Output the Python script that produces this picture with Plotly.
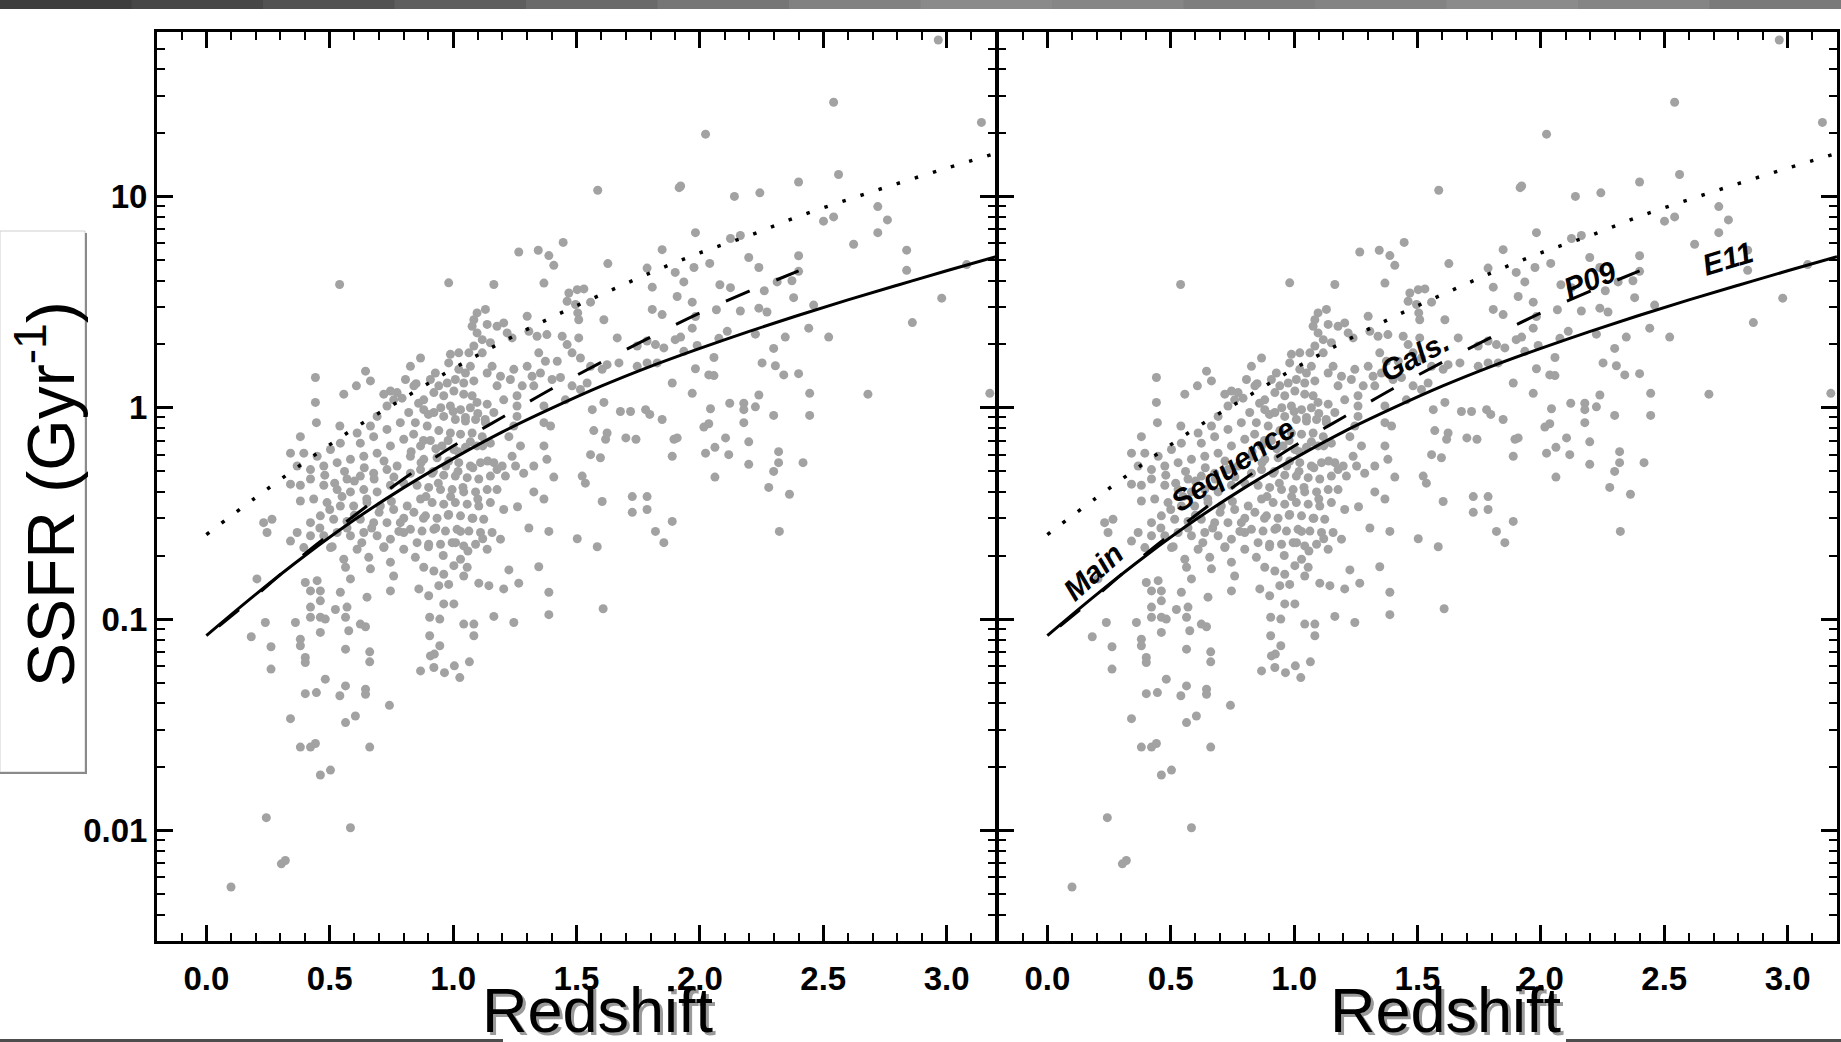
import plotly.graph_objects as go

W, H = 1841, 1042

# ---------------- data ----------------
x_tick_vals = [0.0, 0.5, 1.0, 1.5, 2.0, 2.5, 3.0]
x_tick_text = ["0.0", "0.5", "1.0", "1.5", "2.0", "2.5", "3.0"]
y_tick_vals = [0.01, 0.1, 1, 10]
y_tick_text = ["0.01", "0.1", "1", "10"]

# E11 (solid)
e11_z = [0.0, 0.2, 0.4, 0.6, 0.8, 1.0, 1.2, 1.4, 1.6, 1.8, 2.0, 2.2, 2.4, 2.6, 2.8, 3.0, 3.2]
e11_ssfr = [0.0836, 0.131, 0.200, 0.295, 0.419, 0.575, 0.769, 0.995, 1.265, 1.57, 1.91, 2.30,
            2.74, 3.24, 3.80, 4.45, 5.18]

# P09 (dashed)
p09_z = [0.05, 0.2, 0.4, 0.6, 0.8, 1.0, 1.2, 1.4, 1.6, 1.8, 2.0, 2.2, 2.4]
p09_ssfr = [0.0925, 0.129, 0.204, 0.309, 0.462, 0.659, 0.902, 1.23, 1.64, 2.16, 2.81, 3.56, 4.44]

# upper envelope (dotted)
dot_z = [0.0, 0.2, 0.4, 0.6, 0.8, 1.0, 1.2, 1.4, 1.6, 1.8, 2.0, 2.2, 2.4, 2.6, 2.8, 3.0, 3.2]
dot_ssfr = [0.251, 0.376, 0.555, 0.80, 1.11, 1.53, 2.05, 2.68, 3.43, 4.35, 5.41, 6.53, 8.04, 9.66, 11.5, 13.6, 16.0]

# galaxies (redshift, SSFR) grouped by region of the plot
gal_upper = [
    (1.586, 10.7), (1.916, 11.0), (0.54, 3.83), (0.982, 3.9), (1.165, 3.83), (1.446, 6.06),
    (1.266, 5.46), (1.345, 5.56), (1.388, 5.25), (1.408, 4.72), (1.847, 5.6), (1.627, 4.81),
    (1.368, 3.89), (1.807, 3.72), (1.786, 4.58), (1.9, 4.37), (1.469, 3.49), (1.503, 3.62),
    (1.53, 3.65), (1.496, 3.08), (1.557, 3.16), (1.611, 2.61), (1.807, 2.92), (1.847, 2.76),
    (1.462, 3.19), (1.505, 2.81), (1.509, 2.61), (1.3, 2.71), (1.307, 2.3), (1.34, 2.18),
    (1.38, 2.22), (1.347, 1.82), (1.442, 2.18), (1.462, 1.99), (1.509, 2.14), (1.665, 2.14),
    (1.746, 1.96), (1.786, 2.07), (1.82, 1.99), (1.854, 1.92), (1.9, 2.1), (1.672, 1.63),
    (1.746, 1.57), (1.786, 1.63), (1.827, 1.63), (1.888, 1.31), (1.557, 1.57), (1.604, 1.52),
    (1.624, 1.6), (1.678, 0.96), (1.719, 0.96), (1.78, 0.98), (1.797, 0.93), (1.847, 0.88),
    (1.895, 0.71), (1.7, 0.72), (1.741, 0.71), (1.611, 1.06), (1.564, 0.98), (1.57, 0.78),
    (1.624, 0.76), (1.618, 0.71), (1.557, 0.6), (1.597, 0.58), (1.888, 0.59), (1.408, 0.47),
    (1.523, 0.475), (1.536, 0.44), (1.726, 0.38), (1.786, 0.38), (1.786, 0.33), (1.726, 0.32),
    (1.604, 0.36), (1.503, 0.24), (1.584, 0.22), (1.82, 0.26), (1.854, 0.23), (1.888, 0.29),
    (1.388, 0.26), (1.307, 0.27),
]

gal_mid = [
    (1.368, 0.85), (1.368, 0.66), (1.38, 0.57), (1.327, 0.53), (1.327, 0.4), (1.368, 0.37),
    (1.261, 0.34), (1.205, 0.33), (1.253, 0.53), (1.286, 0.49), (1.273, 0.66), (1.226, 0.73),
    (1.246, 0.82), (1.199, 0.53), (1.239, 0.59), (1.165, 0.55), (1.178, 0.51), (1.212, 0.475),
    (1.259, 1.02), (1.259, 0.91), (1.259, 1.14), (1.28, 1.27), (1.232, 1.36), (1.246, 1.52),
    (1.3, 1.57), (1.32, 1.41), (1.327, 1.27), (1.205, 1.09), (1.178, 1.27), (1.192, 1.41),
    (1.354, 1.46), (1.374, 1.66), (1.422, 1.66), (1.401, 1.36), (1.435, 1.39), (1.482, 1.27),
    (1.455, 1.09), (1.516, 1.72), (1.482, 1.82), (1.543, 1.31), (1.516, 1.22), (1.395, 0.82),
    (1.368, 1.02), (1.151, 2.03), (1.131, 2.92), (1.097, 2.81), (1.138, 2.48), (1.178, 2.43),
    (1.219, 2.26), (1.205, 2.52), (1.239, 2.14), (1.084, 2.61), (1.077, 2.43), (1.097, 2.26),
    (1.118, 2.1), (1.084, 1.96), (1.118, 1.82), (1.064, 1.82), (1.158, 1.57), (1.138, 1.46),
    (0.989, 1.79), (1.023, 1.82), (0.982, 1.63), (1.07, 1.57), (1.05, 1.46), (1.023, 1.52),
    (1.043, 1.31), (1.084, 1.34), (1.009, 1.36), (0.976, 1.31), (0.928, 1.46), (0.908, 1.36),
    (0.942, 1.27), (0.868, 1.72), (0.827, 1.57),
]

gal_core = [
    (0.881, 1.09), (0.922, 1.18), (0.962, 1.14), (1.003, 1.2), (1.043, 1.16), (1.077, 1.14),
    (0.989, 1.02), (1.03, 0.98), (1.07, 1.0), (1.097, 1.06), (1.138, 1.04), (1.165, 0.95),
    (1.131, 0.85), (1.091, 0.88), (1.05, 0.865), (1.009, 0.88), (0.962, 0.91), (0.922, 0.95),
    (0.881, 0.98), (0.847, 0.85), (0.895, 0.82), (0.942, 0.78), (0.989, 0.76), (1.03, 0.75),
    (1.077, 0.76), (1.118, 0.73), (1.151, 0.68), (1.097, 0.66), (1.05, 0.65), (1.003, 0.635),
    (0.955, 0.66), (0.908, 0.70), (0.868, 0.66), (0.827, 0.59), (0.881, 0.57), (0.935, 0.58),
    (0.982, 0.56), (1.023, 0.55), (1.07, 0.53), (1.111, 0.55), (1.151, 0.475), (1.104, 0.46),
    (1.057, 0.467), (1.009, 0.475), (0.962, 0.48), (0.915, 0.49), (0.868, 0.51), (0.827, 0.49),
    (0.854, 0.43), (0.901, 0.42), (0.949, 0.41), (0.996, 0.41), (1.043, 0.40), (1.091, 0.40),
    (1.138, 0.41), (1.178, 0.41), (1.151, 0.356), (1.104, 0.343), (1.057, 0.35), (1.009, 0.356),
    (0.962, 0.35), (0.915, 0.356), (0.868, 0.37), (0.841, 0.32), (0.888, 0.308), (0.935, 0.30),
    (0.982, 0.313), (1.03, 0.308), (1.077, 0.30), (1.124, 0.297), (1.158, 0.257), (1.111, 0.257),
    (1.064, 0.261), (1.016, 0.266), (0.969, 0.261), (0.922, 0.266), (0.874, 0.261), (0.827, 0.266),
    (0.854, 0.23), (0.901, 0.226), (0.949, 0.226), (0.996, 0.23), (1.043, 0.222), (1.091, 0.226),
    (1.138, 0.214), (1.192, 0.239),
    (0.86, 1.05), (0.9, 0.93), (0.95, 1.0), (1.0, 0.96), (1.05, 0.9), (1.1, 0.94), (1.13, 0.88),
    (0.88, 0.7), (0.93, 0.64), (0.98, 0.7), (1.02, 0.62), (1.07, 0.69), (1.12, 0.66), (0.87, 0.55),
    (0.92, 0.5), (0.97, 0.53), (1.02, 0.5), (1.08, 0.52), (1.14, 0.56), (0.89, 0.38), (0.94, 0.44),
    (0.99, 0.38), (1.04, 0.42), (1.1, 0.37), (0.88, 0.3), (0.93, 0.27), (0.98, 0.31), (1.03, 0.26),
    (1.08, 0.3), (0.9, 0.22), (0.96, 0.2), (1.01, 0.23), (1.06, 0.21), (1.12, 0.24),
    (0.83, 0.62), (0.84, 0.75), (0.82, 0.95), (0.85, 1.3),
]

gal_left = [
    (0.442, 1.39), (0.442, 1.06), (0.446, 0.85), (0.381, 0.73), (0.541, 0.82), (0.557, 1.16),
    (0.608, 1.27), (0.645, 1.49), (0.665, 1.34), (0.746, 1.2), (0.773, 1.18), (0.793, 1.11),
    (0.732, 1.02), (0.692, 0.91), (0.665, 0.82), (0.611, 0.76), (0.543, 0.68), (0.503, 0.635),
    (0.449, 0.59), (0.395, 0.61), (0.341, 0.61), (0.368, 0.53), (0.422, 0.51), (0.476, 0.53),
    (0.53, 0.55), (0.584, 0.57), (0.638, 0.59), (0.692, 0.61), (0.746, 0.66), (0.8, 0.71),
    (0.786, 0.85), (0.732, 0.79), (0.678, 0.73), (0.624, 0.68), (0.57, 0.46), (0.624, 0.475),
    (0.678, 0.49), (0.732, 0.51), (0.773, 0.53), (0.8, 0.44), (0.746, 0.43), (0.692, 0.40),
    (0.638, 0.41), (0.584, 0.40), (0.53, 0.41), (0.476, 0.43), (0.422, 0.46), (0.381, 0.43),
    (0.341, 0.435), (0.381, 0.362), (0.435, 0.37), (0.489, 0.356), (0.543, 0.343), (0.597, 0.343),
    (0.651, 0.356), (0.705, 0.343), (0.759, 0.33), (0.814, 0.343), (0.786, 0.286), (0.732, 0.286),
    (0.678, 0.286), (0.624, 0.297), (0.57, 0.29), (0.516, 0.297), (0.462, 0.308), (0.422, 0.286),
    (0.368, 0.257), (0.422, 0.248), (0.476, 0.248), (0.53, 0.257), (0.584, 0.248), (0.638, 0.257),
    (0.692, 0.248), (0.746, 0.239), (0.8, 0.257), (0.232, 0.286), (0.266, 0.297), (0.246, 0.257),
    (0.341, 0.234), (0.395, 0.218), (0.503, 0.218), (0.611, 0.214), (0.719, 0.218), (0.8, 0.214),
    (0.719, 1.16), (0.759, 1.09), (0.841, 1.27), (0.807, 1.36),
    (0.48, 0.48), (0.52, 0.44), (0.56, 0.5), (0.6, 0.45), (0.64, 0.52), (0.68, 0.46), (0.72, 0.56),
    (0.76, 0.47), (0.5, 0.33), (0.55, 0.38), (0.6, 0.31), (0.65, 0.37), (0.7, 0.32), (0.75, 0.36),
    (0.8, 0.3), (0.46, 0.27), (0.51, 0.22), (0.57, 0.27), (0.63, 0.23), (0.67, 0.27), (0.72, 0.22),
    (0.78, 0.26),
]

gal_low = [
    (0.205, 0.155), (0.239, 0.0964), (0.182, 0.0825), (0.262, 0.074), (0.262, 0.058),
    (0.361, 0.0964), (0.422, 0.102), (0.462, 0.102), (0.482, 0.1), (0.462, 0.0865), (0.381, 0.0804),
    (0.381, 0.0748), (0.401, 0.0658), (0.401, 0.0623), (0.422, 0.114), (0.401, 0.149), (0.422, 0.136),
    (0.462, 0.136), (0.462, 0.122), (0.449, 0.152), (0.523, 0.111), (0.543, 0.134), (0.564, 0.176),
    (0.557, 0.192), (0.584, 0.155), (0.57, 0.114), (0.564, 0.102), (0.577, 0.0881), (0.564, 0.0721),
    (0.624, 0.0947), (0.645, 0.092), (0.651, 0.127), (0.665, 0.173), (0.658, 0.196), (0.746, 0.186),
    (0.759, 0.16), (0.746, 0.136), (0.662, 0.07), (0.662, 0.0628), (0.482, 0.052), (0.401, 0.0444),
    (0.446, 0.0449), (0.541, 0.0434), (0.564, 0.0483), (0.645, 0.0466), (0.645, 0.0441),
    (0.742, 0.0391), (0.341, 0.0338), (0.564, 0.0324), (0.604, 0.0348), (0.381, 0.0248),
    (0.422, 0.0248), (0.442, 0.0258), (0.662, 0.0248), (0.462, 0.0183), (0.503, 0.0193),
    (0.243, 0.0115), (0.584, 0.0103), (0.304, 0.00695), (0.32, 0.00721), (0.1, 0.0054),
    (0.847, 0.196), (0.881, 0.176), (0.922, 0.169), (0.962, 0.163), (1.003, 0.179), (1.03, 0.192),
    (1.057, 0.176), (1.043, 0.16), (0.861, 0.139), (0.901, 0.129), (0.942, 0.144), (0.982, 0.146),
    (0.962, 0.118), (1.003, 0.118), (1.104, 0.148), (1.145, 0.144), (1.205, 0.139), (1.226, 0.171),
    (1.266, 0.148), (1.347, 0.177), (1.388, 0.134), (1.388, 0.105), (1.165, 0.103), (1.246, 0.0964),
    (0.905, 0.102), (0.946, 0.1), (1.043, 0.0947), (1.084, 0.0947), (1.084, 0.0834), (0.905, 0.0834),
    (0.946, 0.0748), (0.908, 0.067), (0.924, 0.0683), (0.868, 0.0569), (0.922, 0.059), (0.965, 0.0558),
    (1.005, 0.0601), (1.027, 0.0529), (1.066, 0.0628), (1.608, 0.112),
]

gal_highz = [
    (2.542, 27.9), (2.023, 19.7), (3.141, 22.4), (2.966, 55.0), (1.922, 11.2), (2.14, 10.0),
    (2.243, 10.4), (2.4, 11.7), (2.562, 12.7), (2.501, 7.64), (2.542, 8.0), (2.721, 8.95),
    (2.76, 7.74), (2.721, 6.74), (2.623, 5.94), (2.838, 5.57), (2.838, 4.47), (3.081, 4.76),
    (2.98, 3.3), (2.861, 2.53), (2.681, 1.16), (3.175, 1.17), (2.522, 2.16), (1.982, 6.74),
    (1.976, 4.61), (2.04, 4.82), (2.124, 6.32), (2.164, 6.53), (2.239, 4.61), (2.198, 5.14),
    (2.081, 3.82), (2.124, 3.7), (1.935, 3.94), (1.908, 3.36), (1.969, 3.16), (1.982, 2.7),
    (2.067, 2.91), (2.164, 2.87), (2.239, 2.96), (2.272, 2.84), (2.261, 3.58), (2.313, 3.94),
    (2.373, 3.99), (2.4, 5.24), (2.4, 4.42), (2.38, 3.32), (2.461, 3.06), (2.441, 2.38),
    (2.346, 2.16), (2.111, 2.3), (2.077, 2.13), (1.922, 2.16), (1.969, 2.38), (1.989, 1.97),
    (1.935, 1.85), (2.057, 1.73), (2.225, 2.23), (2.299, 1.91), (2.252, 1.63), (2.306, 1.58),
    (2.34, 1.43), (2.4, 1.45), (1.982, 1.53), (2.036, 1.43), (2.057, 1.42), (1.969, 1.17),
    (2.445, 1.17), (2.121, 1.05), (2.178, 1.05), (2.225, 1.01), (2.178, 0.98), (2.239, 1.15),
    (2.043, 0.99), (2.016, 0.81), (2.036, 0.84), (2.299, 0.92), (2.445, 0.92), (1.908, 0.72),
    (2.023, 0.61), (2.104, 0.72), (2.061, 0.65), (2.178, 0.85), (2.198, 0.69), (2.117, 0.60),
    (2.198, 0.54), (2.319, 0.62), (2.319, 0.55), (2.299, 0.50), (2.418, 0.55), (2.061, 0.47),
    (2.279, 0.42), (2.363, 0.39), (2.322, 0.26),
]

# ---------------- helpers for placement ----------------
def px(x):
    return x / W


def py(y):
    return 1 - y / H


galaxies = gal_upper + gal_mid + gal_core + gal_left + gal_low + gal_highz
gal_z = [p[0] for p in galaxies]
gal_ssfr = [p[1] for p in galaxies]

FONT = "Liberation Sans, Arial, Helvetica, sans-serif"
GRAY = "#a2a2a2"

fig = go.Figure()

for xa, ya in (("x", "y"), ("x2", "y2")):
    fig.add_trace(go.Scatter(x=gal_z, y=gal_ssfr, mode="markers", xaxis=xa, yaxis=ya,
                             marker=dict(size=9, color=GRAY, line=dict(width=0)),
                             showlegend=False, hoverinfo="skip"))
    fig.add_trace(go.Scatter(x=dot_z, y=dot_ssfr, mode="lines", xaxis=xa, yaxis=ya,
                             line=dict(color="black", width=3.5, dash="3.5px,15.5px", shape="spline"),
                             showlegend=False, hoverinfo="skip"))
    fig.add_trace(go.Scatter(x=p09_z, y=p09_ssfr, mode="lines", xaxis=xa, yaxis=ya,
                             line=dict(color="black", width=3, dash="26px,29px", shape="spline"),
                             showlegend=False, hoverinfo="skip"))
    fig.add_trace(go.Scatter(x=e11_z, y=e11_ssfr, mode="lines", xaxis=xa, yaxis=ya,
                             line=dict(color="black", width=3, shape="spline"),
                             showlegend=False, hoverinfo="skip"))

y_minor = [m * 10 ** e for e in range(-3, 2) for m in range(2, 10)]
y_minor = [v for v in y_minor if 0.003 <= v <= 60]

ydom = [py(941), py(32)]
TICKFONT = dict(family=FONT, size=33, color="black", weight="bold")


def xaxis_cfg(dom, anchor):
    return dict(domain=[px(dom[0]), px(dom[1])], anchor=anchor, range=[-0.2, 3.2],
                tickmode="array", tickvals=x_tick_vals, ticktext=x_tick_text,
                ticks="inside", ticklen=16, tickwidth=2.5, tickcolor="black",
                minor=dict(tickmode="linear", tick0=0, dtick=0.1, ticks="inside", ticklen=8,
                           tickwidth=2, tickcolor="black", showgrid=False),
                showline=True, linewidth=3, linecolor="black", mirror="ticks",
                showgrid=False, zeroline=False, ticklabelstandoff=6,
                tickfont=TICKFONT)


def yaxis_cfg(anchor, labels):
    return dict(domain=ydom, anchor=anchor, type="log", range=[-2.523, 1.778],
                tickmode="array", tickvals=y_tick_vals, ticktext=y_tick_text,
                showticklabels=labels,
                ticks="inside", ticklen=16, tickwidth=2.5, tickcolor="black",
                minor=dict(tickmode="array", tickvals=y_minor, ticks="inside", ticklen=8,
                           tickwidth=2, tickcolor="black", showgrid=False),
                showline=True, linewidth=3, linecolor="black", mirror="ticks",
                showgrid=False, zeroline=False, ticklabelstandoff=0,
                tickfont=TICKFONT)


shapes = []
# slide band at the top
band_grays = ["#3e3e3e", "#474747", "#525252", "#5e5e5e", "#6a6a6a", "#767676", "#818181",
              "#8a8a8a", "#868686", "#7e7e7e", "#838383", "#8b8b8b", "#858585", "#7a7a7a"]
nb = len(band_grays)
for i, c in enumerate(band_grays):
    shapes.append(dict(type="rect", xref="paper", yref="paper", x0=i / nb, x1=(i + 1) / nb + 0.002,
                       y0=py(9), y1=1, fillcolor=c, line=dict(width=0), layer="above"))
# slide bars at the bottom
for x0, x1 in ((0, 503), (1566, 1841)):
    shapes.append(dict(type="rect", xref="paper", yref="paper", x0=px(x0), x1=px(x1),
                       y0=0, y1=py(1039), fillcolor="#4d4d4d", line=dict(width=0), layer="above"))
# y-title box
shapes.append(dict(type="rect", xref="paper", yref="paper", x0=0, x1=px(85), y0=py(772), y1=py(231),
                   fillcolor="white", line=dict(color="#cfcfcf", width=1), layer="below"))
shapes.append(dict(type="line", xref="paper", yref="paper", x0=px(86), x1=px(86), y0=py(774), y1=py(233),
                   line=dict(color="#8a8a8a", width=2)))
shapes.append(dict(type="line", xref="paper", yref="paper", x0=0, x1=px(86), y0=py(773), y1=py(773),
                   line=dict(color="#8a8a8a", width=2)))

annotations = []
# y title
annotations.append(dict(text="SSFR (Gyr<sup>-1</sup>)", xref="paper", yref="paper",
                        x=px(46), y=py(494), xanchor="center", yanchor="middle", showarrow=False,
                        textangle=-90, font=dict(family=FONT, size=66, color="black")))
# x titles with soft shadow
for cx in (598, 1446):
    annotations.append(dict(text="Redshift", xref="paper", yref="paper", x=px(cx + 3), y=py(1013),
                            xanchor="center", yanchor="middle", showarrow=False,
                            font=dict(family=FONT, size=63, color="#9a9a9a")))
    annotations.append(dict(text="Redshift", xref="paper", yref="paper", x=px(cx), y=py(1010),
                            xanchor="center", yanchor="middle", showarrow=False,
                            font=dict(family=FONT, size=63, color="black")))

# line labels in right panel (x in redshift, y in log10 SSFR)
label_text = ["Main", "Sequence", "Gals.", "P09", "E11"]
label_z = [0.186, 0.753, 1.486, 2.2, 2.756]
label_logssfr = [-0.774, -0.269, 0.241, 0.608, 0.708]
label_angle = [-42, -34, -28, -22, -17]
for t, xz, ly, ang in zip(label_text, label_z, label_logssfr, label_angle):
    annotations.append(dict(text=t, xref="x2", yref="y2", x=xz, y=ly, showarrow=False,
                            textangle=ang, xanchor="center", yanchor="middle",
                            font=dict(family=FONT, size=30, color="black", weight="bold", style="italic")))

fig.update_layout(
    width=W, height=H, margin=dict(l=0, r=0, t=0, b=0),
    paper_bgcolor="white", plot_bgcolor="white",
    xaxis=xaxis_cfg((157, 996), "y"),
    xaxis2=xaxis_cfg((998, 1837), "y2"),
    yaxis=yaxis_cfg("x", True),
    yaxis2=yaxis_cfg("x2", False),
    shapes=shapes, annotations=annotations, showlegend=False,
)

fig.write_html("out.html")
